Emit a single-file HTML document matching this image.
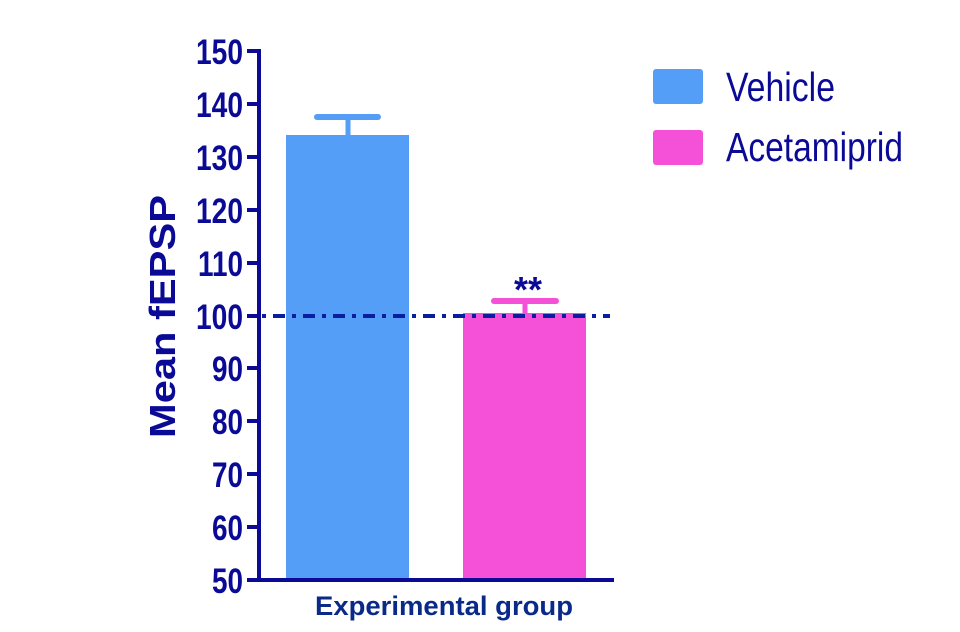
<!DOCTYPE html>
<html><head><style>body{margin:0;background:#fff}svg{display:block}</style></head><body>
<svg width="960" height="632" xmlns="http://www.w3.org/2000/svg">
<rect width="960" height="632" fill="#fff"/>
<rect x="286" y="135" width="123" height="445" fill="#559ef7"/>
<rect x="463" y="313" width="123" height="267" fill="#f450d8"/>
<line x1="348" y1="117" x2="348" y2="135" stroke="#559ef7" stroke-width="5"/>
<line x1="317" y1="117" x2="378" y2="117" stroke="#559ef7" stroke-width="6" stroke-linecap="round"/>
<line x1="525" y1="301" x2="525" y2="313" stroke="#f450d8" stroke-width="5"/>
<line x1="494" y1="301" x2="556" y2="301" stroke="#f450d8" stroke-width="6" stroke-linecap="round"/>
<line x1="262" y1="316" x2="610" y2="316" stroke="#0a1ea0" stroke-width="4" stroke-dasharray="4,7,12,7"/>
<g stroke="#0a0a96" stroke-width="4">
<line x1="259" y1="49" x2="259" y2="582"/>
<line x1="247" y1="580" x2="614" y2="580"/>
<line x1="247" y1="51" x2="259" y2="51"/>
<line x1="247" y1="104" x2="259" y2="104"/>
<line x1="247" y1="157" x2="259" y2="157"/>
<line x1="247" y1="210" x2="259" y2="210"/>
<line x1="247" y1="263" x2="259" y2="263"/>
<line x1="247" y1="316" x2="259" y2="316"/>
<line x1="247" y1="368" x2="259" y2="368"/>
<line x1="247" y1="421" x2="259" y2="421"/>
<line x1="247" y1="474" x2="259" y2="474"/>
<line x1="247" y1="527" x2="259" y2="527"/>
</g>
<g font-family="Liberation Sans, sans-serif" font-weight="bold" font-size="35" fill="#0a0a96" text-anchor="end">
<text x="243" y="64" textLength="47" lengthAdjust="spacingAndGlyphs">150</text>
<text x="243" y="117" textLength="47" lengthAdjust="spacingAndGlyphs">140</text>
<text x="243" y="170" textLength="47" lengthAdjust="spacingAndGlyphs">130</text>
<text x="243" y="223" textLength="47" lengthAdjust="spacingAndGlyphs">120</text>
<text x="243" y="276" textLength="45" lengthAdjust="spacingAndGlyphs">110</text>
<text x="243" y="329" textLength="47" lengthAdjust="spacingAndGlyphs">100</text>
<text x="243" y="381" textLength="31" lengthAdjust="spacingAndGlyphs">90</text>
<text x="243" y="434" textLength="31" lengthAdjust="spacingAndGlyphs">80</text>
<text x="243" y="487" textLength="31" lengthAdjust="spacingAndGlyphs">70</text>
<text x="243" y="540" textLength="31" lengthAdjust="spacingAndGlyphs">60</text>
<text x="243" y="593" textLength="31" lengthAdjust="spacingAndGlyphs">50</text>
</g>
<text transform="translate(175,438) rotate(-90)" font-family="Liberation Sans, sans-serif" font-weight="bold" font-size="36" fill="#0a0a96" textLength="243" lengthAdjust="spacingAndGlyphs">Mean fEPSP</text>
<text x="315" y="615" font-family="Liberation Sans, sans-serif" font-weight="bold" font-size="27" fill="#0a2a8a" textLength="258" lengthAdjust="spacingAndGlyphs">Experimental group</text>
<text x="528" y="302" font-family="Liberation Sans, sans-serif" font-weight="bold" font-size="36" fill="#0a0a96" text-anchor="middle">**</text>
<rect x="653" y="69" width="50" height="35" rx="3" fill="#559ef7"/>
<rect x="653" y="130" width="50" height="35" rx="3" fill="#f450d8"/>
<g font-family="Liberation Sans, sans-serif" font-size="41" fill="#0a0a96">
<text x="726" y="101" textLength="109" lengthAdjust="spacingAndGlyphs">Vehicle</text>
<text x="726" y="161" textLength="177" lengthAdjust="spacingAndGlyphs">Acetamiprid</text>
</g>
</svg>
</body></html>
